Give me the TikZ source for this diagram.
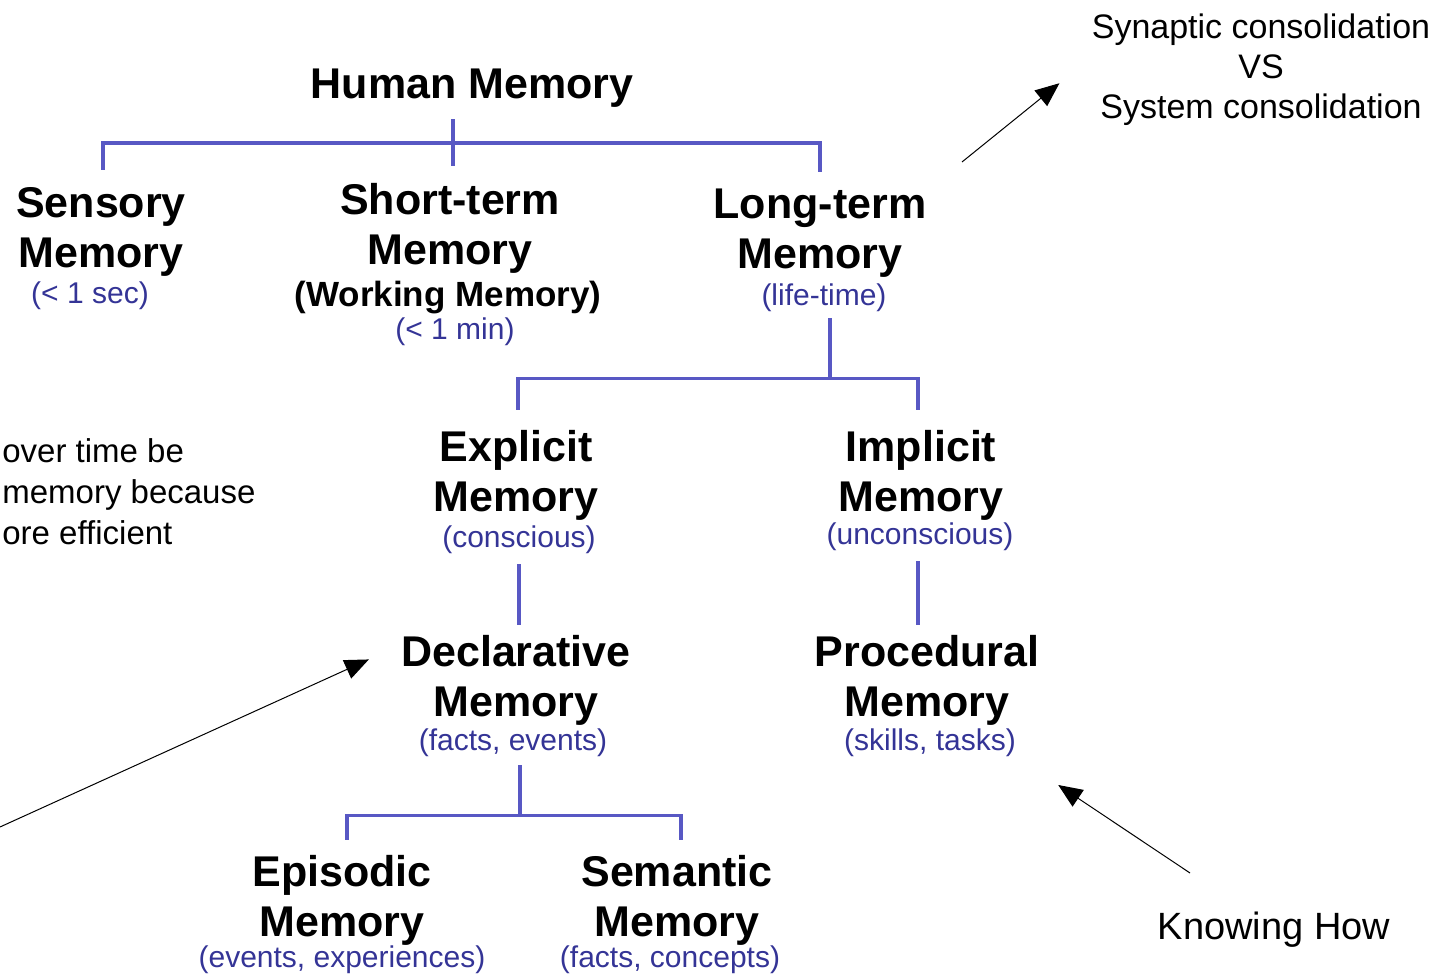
\documentclass[tikz,border=0pt]{standalone}
\usepackage{fontspec}
\setmainfont{Liberation Sans}
\usetikzlibrary{arrows.meta}
\definecolor{branchblue}{RGB}{88,88,196}
\definecolor{noteblue}{RGB}{52,52,150}

\tikzset{
  memtitle/.style={font=\bfseries\fontsize{21.5}{25}\selectfont, align=center, inner sep=0pt, anchor=north},
  memnote/.style={font=\fontsize{15}{18}\selectfont, text=noteblue, inner sep=0pt},
  branch/.style={draw=branchblue, line width=1.7pt},
  remark/.style={font=\fontsize{17}{20}\selectfont, align=center, inner sep=0pt},
  pointer/.style={-{Triangle[length=12pt,width=10pt]}, line width=0.5pt},
}

\begin{document}
\begin{tikzpicture}[x=0.5pt, y=-0.5pt]
\useasboundingbox (0,0) rectangle (1447,977);

% memory tree
\node[memtitle] (human) at (472,69) {Human Memory};
\node[memtitle] (sens) at (101,187) {Sensory\\Memory};
\node[memnote] (sensnote) at (90,296) {(< 1 sec)};
\node[memtitle] (short) at (450,183) {Short-term\\Memory};
\node[memnote, text=black, font=\bfseries\fontsize{17.5}{20}\selectfont] (working) at (448,298) {(Working Memory)};
\node[memnote] (shortnote) at (455,332) {(< 1 min)};
\node[memtitle] (long) at (820,189) {Long-term\\Memory};
\node[memnote] (longnote) at (824,298) {(life-time)};

\node[memtitle] (expl) at (516,430) {Explicit\\Memory};
\node[memnote] (explnote) at (519,540) {(conscious)};
\node[memtitle] (impl) at (921,430) {Implicit\\Memory};
\node[memnote] (implnote) at (920,537) {(unconscious)};

\node[memtitle] (decl) at (516,635) {Declarative\\Memory};
\node[memnote] (declnote) at (513,743) {(facts, events)};
\node[memtitle] (proc) at (927,635) {Procedural\\Memory};
\node[memnote] (procnote) at (930,743) {(skills, tasks)};

\node[memtitle] (epis) at (342,855) {Episodic\\Memory};
\node[memnote] (episnote) at (342,960) {(events, experiences)};
\node[memtitle] (sema) at (677,855) {Semantic\\Memory};
\node[memnote] (semanote) at (670,960) {(facts, concepts)};

% branches
\draw[branch] ([xshift=1.5pt,yshift=8.5pt]short.north) -- ([xshift=1.5pt,yshift=-5.5pt]short.north |- human.south);
\draw[branch] ([xshift=1pt,yshift=8.5pt]sens.north) -- ++(0,-27) coordinate (hubA) -- (hubA -| long.north) -- ([yshift=8.5pt]long.north);
\draw[branch] ([xshift=3pt,yshift=-3pt]longnote.south) -- ++(0,60) coordinate (hubB);
\draw[branch] ([xshift=1pt,yshift=10pt]expl.north) |- (hubB) -| ([xshift=-1.5pt,yshift=10pt]impl.north);
\draw[branch] ([yshift=-5pt]explnote.south) -- ([yshift=5pt]explnote.south |- decl.north);
\draw[branch] ([xshift=-1pt,yshift=-5pt]implnote.south) -- ([xshift=-1pt,yshift=5pt]implnote.south |- proc.north);
\draw[branch] ([xshift=3.5pt,yshift=-4pt]declnote.south) -- ++(0,50) coordinate (hubC);
\draw[branch] ([xshift=2.5pt,yshift=7.5pt]epis.north) |- (hubC) -| ([xshift=2pt,yshift=7.5pt]sema.north);

% remarks
\node[remark, anchor=north] (cons) at (1261,13) {Synaptic consolidation\\VS\\System consolidation};
\coordinate (consfrom) at (962,162);
\draw[pointer] (consfrom) -- ([shift={(-16pt,-7pt)}]cons.west);

\node[remark, font=\fontsize{16.5}{20.5}\selectfont, align=left, anchor=north west] (overtime) at (2,438) {over time be\\memory because\\ore efficient};
\coordinate (declfrom) at (0,827);
\draw[pointer] (declfrom) -- ([shift={(-16pt,10.5pt)}]decl.west);

\node[remark, font=\fontsize{19}{22}\selectfont] (knowing) at (1274,930) {Knowing How};
\coordinate (knowfrom) at (1190,873);
\draw[pointer] (knowfrom) -- ([shift={(21pt,-21pt)}]procnote.east);
\end{tikzpicture}
\end{document}
